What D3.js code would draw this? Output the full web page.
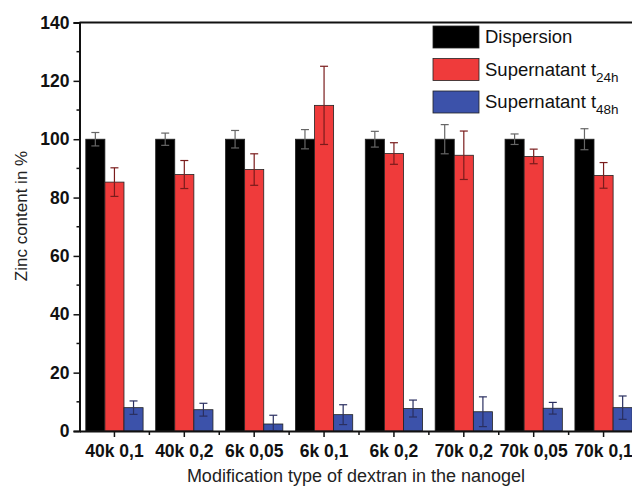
<!DOCTYPE html>
<html><head><meta charset="utf-8">
<script src="https://cdn.jsdelivr.net/npm/d3@7/dist/d3.min.js"></script>
<style>body{margin:0;background:#fff}svg{display:block}text{font-family:"Liberation Sans",Arial,sans-serif}</style>
</head><body>
<svg id="c" width="632" height="491"></svg>
<script>
const categories = ["40k 0,1","40k 0,2","6k 0,05","6k 0,1","6k 0,2","70k 0,2","70k 0,05","70k 0,1"];
const seriesNames = ["Dispersion","Supernatant t","Supernatant t"];
const seriesSubs = ["","24h","48h"];
const dispersion = [100,100,100,100,100,100,100,100];
const dispersionErr = [2.3,2.1,3.0,3.3,2.7,5.0,1.8,3.6];
const sup24 = [85.3,87.9,89.6,111.6,95.1,94.5,94.1,87.6];
const sup24Err = [4.9,4.8,5.4,13.4,3.7,8.3,2.5,4.4];
const sup48 = [8.0,7.3,2.4,5.6,7.7,6.6,7.8,8.0];
const sup48Err = [2.3,2.2,3.0,3.4,2.9,5.1,2.0,4.0];
const yTicks = [0,20,40,60,80,100,120,140];
const colors = ["#000000","#ef3b3b","#3c52aa"];
const errColors = ["#666666","#7a1c1c","#2a2f60"];

const svg = d3.select("#c");
const pLeft = 79.5, pRight = 638.5, pTop = 22.5, pBottom = 431;
const x = d3.scaleBand().domain(categories).range([pLeft, pRight]).paddingInner(0.18).paddingOuter(0.09);
const y = d3.scaleLinear().domain([0,140]).range([pBottom, pTop]);
const series = [
  {vals: dispersion, err: dispersionErr},
  {vals: sup24, err: sup24Err},
  {vals: sup48, err: sup48Err}
];
const xs = d3.scaleBand().domain([0,1,2]).range([0, x.bandwidth()]);
const FONT = '"Liberation Sans",Arial,sans-serif';

const g = svg.append("g");
series.forEach((s, si) => {
  const sg = g.append("g");
  sg.selectAll("rect").data(categories).join("rect")
    .attr("x", d => x(d) + xs(si))
    .attr("y", (d,i) => y(s.vals[i]))
    .attr("width", xs.bandwidth())
    .attr("height", (d,i) => y(0) - y(s.vals[i]))
    .attr("fill", colors[si])
    .attr("stroke", "#222").attr("stroke-width", 0.8);
});
series.forEach((s, si) => {
  const eg = g.append("g").attr("stroke", errColors[si]).attr("stroke-width", 1.2).attr("fill","none");
  categories.forEach((c, i) => {
    const cx = x(c) + xs(si) + xs.bandwidth()/2;
    const y1 = y(s.vals[i] + s.err[i]), y2 = y(Math.max(0, s.vals[i] - s.err[i]));
    eg.append("line").attr("x1", cx).attr("x2", cx).attr("y1", y1).attr("y2", y2);
    eg.append("line").attr("x1", cx-4).attr("x2", cx+4).attr("y1", y1).attr("y2", y1);
    eg.append("line").attr("x1", cx-4).attr("x2", cx+4).attr("y1", y2).attr("y2", y2);
  });
});

// frame
svg.append("line").attr("x1", pLeft).attr("x2", 640).attr("y1", pTop).attr("y2", pTop).attr("stroke","#111").attr("stroke-width",2);
svg.append("line").attr("x1", pRight).attr("x2", pRight).attr("y1", pTop).attr("y2", pBottom).attr("stroke","#111").attr("stroke-width",2);

// y axis
const yAxis = d3.axisLeft(y).tickValues(yTicks).tickSize(6).tickPadding(4);
const ya = svg.append("g").attr("transform", `translate(${pLeft},0)`).call(yAxis);
ya.select(".domain").attr("stroke","#111").attr("stroke-width",2);
ya.selectAll(".tick line").attr("stroke","#111").attr("stroke-width",1.5);
ya.selectAll("text").attr("font-size",17.5).attr("font-weight","bold").attr("fill","#111").style("font-family",FONT);
const yMinor = d3.range(10,140,20);
svg.append("g").selectAll("line").data(yMinor).join("line")
  .attr("x1", pLeft-3).attr("x2", pLeft).attr("y1", d=>y(d)).attr("y2", d=>y(d))
  .attr("stroke","#111").attr("stroke-width",1.5);

// x axis
const xAxis = d3.axisBottom(x).tickSize(6).tickPadding(8).tickSizeOuter(0);
const xa = svg.append("g").attr("transform", `translate(0,${pBottom})`).call(xAxis);
xa.select(".domain").attr("stroke","#111").attr("stroke-width",2);
xa.selectAll(".tick line").attr("stroke","#111").attr("stroke-width",1.5);
xa.selectAll("text").attr("font-size",17.5).attr("font-weight","bold").attr("fill","#111").style("font-family",FONT);
const step = x.step();
svg.append("g").selectAll("line").data(categories.slice(1)).join("line")
  .attr("x1", d => x(d) + x.bandwidth()/2 - step/2).attr("x2", d => x(d) + x.bandwidth()/2 - step/2)
  .attr("y1", pBottom).attr("y2", pBottom+4).attr("stroke","#111").attr("stroke-width",1.5);

// axis titles
svg.append("text").attr("transform", `translate(27,216) rotate(-90)`)
  .attr("text-anchor","middle").attr("font-size",17).attr("fill","#222").text("Zinc content in %");
svg.append("text").attr("x", 356).attr("y", 482).attr("text-anchor","middle")
  .attr("font-size",18).attr("fill","#222").text("Modification type of dextran in the nanogel");

// legend
const lg = svg.append("g");
seriesNames.forEach((n, i) => {
  const yy = 26 + i*32.5;
  lg.append("rect").attr("x",433).attr("y",yy).attr("width",46).attr("height",22)
    .attr("fill",colors[i]).attr("stroke","#222").attr("stroke-width",0.8);
  const t = lg.append("text").attr("x",485).attr("y",yy+17).attr("font-size",18.5).attr("fill","#111").text(n);
  if (seriesSubs[i]) t.append("tspan").attr("font-size",13.5).attr("dy",6).text(seriesSubs[i]);
});
</script>
</body></html>
